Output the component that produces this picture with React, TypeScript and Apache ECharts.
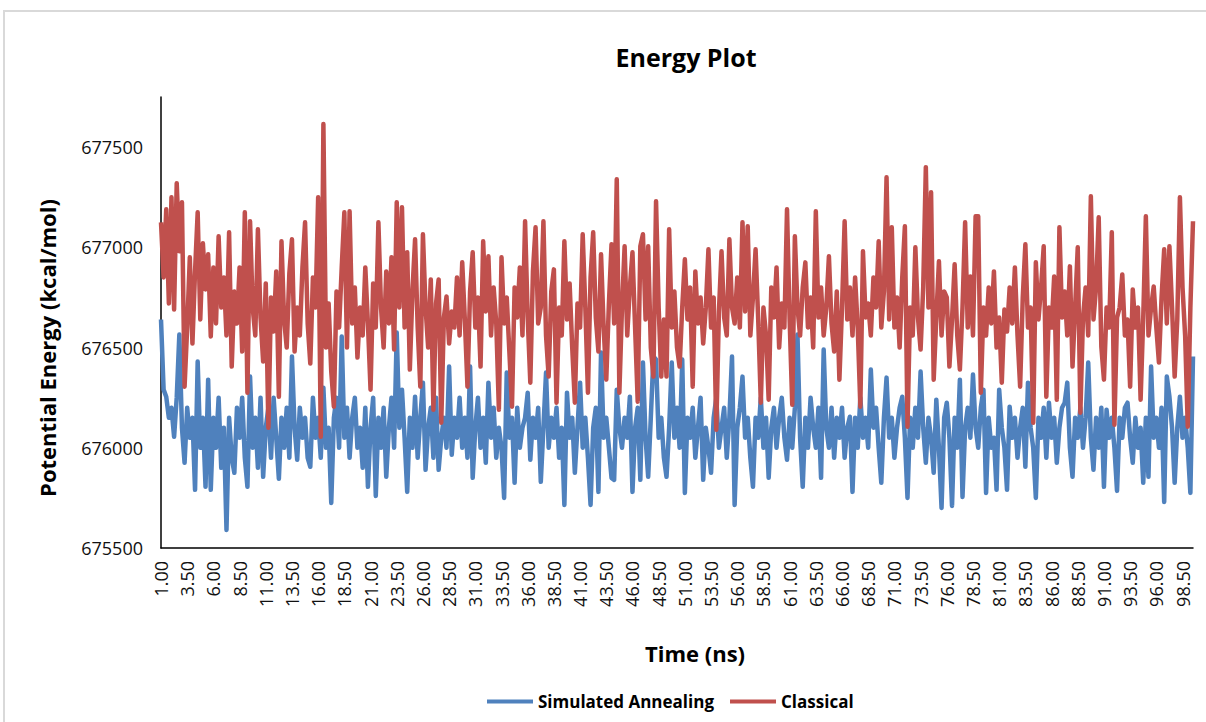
import React, { useEffect, useRef } from "react";
import * as echarts from "echarts";

const TIME_START = 1.0;
const TIME_STEP = 0.25;

const simulatedAnnealing: number[] = [
  676640, 676290, 676255, 676150, 676200, 676055, 676250, 676565, 676100, 675925,
  676200, 676050, 676150, 675790, 676430, 676000, 676150, 675805, 676340, 675790,
  676150, 676000, 676250, 675900, 676100, 675590, 676150, 675950, 675875, 676200,
  676050, 676250, 675950, 675805, 676355, 676000, 676150, 675900, 676250, 675855,
  676100, 676200, 675950, 676250, 676050, 675845, 676150, 676000, 676200, 675950,
  676455, 676100, 675940, 676200, 676050, 676150, 675950, 675905, 676250, 676050,
  676150, 675950, 676300, 676000, 676100, 675725, 676150, 676250, 676000, 676555,
  676050, 676200, 675950, 676150, 676250, 676000, 676100, 675900, 676200, 675805,
  676100, 676250, 675760, 676150, 676000, 676200, 675855, 676100, 676250, 676000,
  676575, 676100, 676290, 676050, 675780, 676150, 676000, 676255, 675950, 676150,
  676325, 675890, 676100, 676200, 675950, 676250, 675890, 676050, 676150, 676000,
  676405, 675965, 676150, 676050, 676250, 676000, 676150, 675950, 676405, 675850,
  676100, 676250, 676000, 676150, 675925, 676325, 676050, 676200, 675950, 676100,
  676000, 675750, 676375, 676050, 676150, 675825, 676200, 676000, 676100, 676150,
  676275, 675940, 676150, 676050, 676200, 675830, 676100, 676375, 676000, 676150,
  676050, 676200, 675950, 676100, 675715, 676275, 676050, 676150, 675875, 676100,
  676325, 676000, 676150, 675950, 675715, 676100, 676200, 675780, 676475, 676050,
  676150, 676000, 675850, 675840, 676290, 676100, 676000, 676150, 676050, 676255,
  675780, 676100, 676200, 675840, 676425, 676050, 675855, 676150, 676455, 676440,
  676050, 676150, 675950, 675855, 676100, 676425, 676050, 676200, 676000, 676440,
  675775, 676150, 676050, 676200, 675950, 676100, 676250, 675840, 676100, 676000,
  675875, 676150, 676250, 676000, 676100, 676200, 675950, 676150, 676455, 675715,
  676100, 676200, 676355, 676050, 676150, 675950, 675805, 676150, 676050, 676250,
  676000, 676150, 675850, 676100, 676200, 676000, 676150, 676250, 676050, 675940,
  676150, 676000, 676200, 676565, 676050, 675805, 676150, 676000, 676250, 676100,
  676000, 676200, 675850, 676490, 676100, 676000, 676200, 675950, 676150, 676050,
  676200, 675950, 676100, 676155, 675780, 676150, 676000, 676250, 676050, 676150,
  676000, 676390, 676100, 676200, 676000, 675825, 676150, 676350, 676050, 676150,
  675950, 676100, 676200, 676255, 676050, 675750, 676150, 676000, 676200, 676050,
  676380, 676100, 675925, 676150, 676050, 675875, 676240, 676000, 675700, 676150,
  676225, 676050, 675710, 676150, 676000, 676340, 675755, 676100, 676200, 676050,
  676365, 676100, 676000, 676200, 676290, 675775, 676150, 676000, 676050, 675790,
  676290, 676100, 676000, 675790, 676205, 676050, 676150, 675950, 676100, 676200,
  675905, 676325, 676100, 676000, 675750, 676150, 676050, 676200, 675950, 676225,
  676050, 676150, 675925, 676100, 676200, 676225, 676325, 676000, 675855, 676150,
  676050, 676200, 676000, 676150, 676425, 676050, 675890, 676150, 676000, 676200,
  675805, 676190, 676050, 676150, 676000, 675785, 676150, 676050, 676200, 676225,
  676050, 675925, 676150, 676000, 676100, 675825, 676150, 675855, 676405, 676050,
  676150, 676000, 676200, 675730, 676355, 676255, 676100, 675825, 676100, 676255,
  676050, 676150, 676000, 675775, 676455,
];

const classical: number[] = [
  677125, 676850, 677190, 676720, 677250, 676690, 677320, 676980, 677225, 676305,
  676600, 676950, 676520, 676880, 677175, 676640, 677020, 676790, 676965, 676555,
  676900, 676620, 677055, 676700, 676850, 676560, 677075, 676405, 676780, 676620,
  676900, 676480, 677175, 676275, 677130, 676700, 676560, 677090, 676650, 676430,
  676820, 676100, 676750, 676580, 676880, 676255, 677030, 676640, 676500, 676870,
  677040, 676480, 676700, 676560, 676900, 677125, 676620, 676420, 676850, 676700,
  677250, 676055, 677615, 676500, 676720, 676380, 676205, 676780, 676600, 676900,
  677175, 676500, 677180, 676620, 676800, 676450, 676700, 676560, 676900, 676620,
  676290, 676820, 676600, 677125, 676700, 676500, 676880, 676620, 676950, 676490,
  677225, 676700, 677200, 676600, 676975, 676390, 676780, 677040, 676600, 676305,
  677065, 676700, 676500, 676840, 676190, 676720, 676840, 676125, 676650, 676755,
  676520, 676680, 676600, 676850, 676560, 676925, 676640, 676305, 676780, 676975,
  676600, 676750, 676405, 677030, 676680, 676955, 676560, 676800, 676620, 676190,
  676950, 676620, 676750, 676480, 676205, 676800, 676650, 676900, 676560, 677130,
  676650, 676325, 676880, 677100, 676620, 676700, 677130, 676560, 676355, 676780,
  676890, 676225, 676700, 676560, 677030, 676640, 676820, 676500, 676225, 676720,
  676600, 677065, 676700, 676275, 676850, 677075, 676650, 676480, 676965, 676600,
  676340, 676720, 677015, 676620, 677340, 676275, 676700, 677005, 676560, 676800,
  676975, 676600, 676230, 677005, 677065, 676640, 677005, 676500, 676355, 677230,
  676700, 676355, 676640, 676355, 677090, 676600, 676780, 676500, 676405, 676700,
  676940, 676640, 676800, 676305, 676880, 676620, 676750, 676520, 676700, 676990,
  676600, 676750, 676090, 676680, 676980, 676650, 676560, 677040, 676700, 676620,
  676850, 676600, 677125, 676680, 677105, 676560, 676750, 676990, 676640, 676225,
  676700, 676560, 676240, 676800, 676650, 676900, 676500, 676720, 676600, 677190,
  676640, 676215, 677055, 676700, 676560, 676800, 676925, 676600, 676750, 676500,
  677180, 676650, 676800, 676560, 676700, 676955, 676620, 676480, 676780, 676340,
  676700, 677130, 676640, 676800, 676560, 676850, 676600, 676205, 676980, 676650,
  676720, 676560, 676850, 676700, 677030, 676600, 676780, 677350, 676640, 677100,
  676600, 676750, 676500, 676850, 677105, 676105, 676700, 676560, 677000, 676650,
  676490, 676800, 677400, 676700, 677275, 676340, 676650, 676930, 676560, 676780,
  676750, 676405, 676640, 676915, 676560, 676390, 676700, 677125, 676600, 676855,
  676560, 677155, 677155, 676275, 676700, 676560, 676800, 676620, 676880, 676500,
  676650, 676325, 676690, 676580, 676800, 676620, 676900, 676560, 676305, 676750,
  677015, 676600, 676700, 676125, 676925, 676640, 676800, 677005, 676255, 676700,
  676600, 676855, 676240, 677100, 676650, 676780, 676560, 676905, 676405, 676700,
  677000, 676175, 676650, 676800, 676560, 677255, 676640, 676800, 677150, 676505,
  676340, 676700, 676600, 677075, 676115, 676650, 676700, 676865, 676560, 676640,
  676305, 676790, 676600, 676700, 676240, 676650, 677155, 676560, 676700, 676805,
  676600, 676425, 676750, 676990, 676620, 677005, 676700, 676355, 676640, 677250,
  676800, 676560, 676105, 676700, 677130,
];

const timeLabels: string[] = simulatedAnnealing.map((_, i) =>
  (TIME_START + i * TIME_STEP).toFixed(2)
);

const Y_MIN = 675500;
const Y_MAX = 677750;
const Y_INTERVAL = 500;

const FONT = "'Open Sans', 'Noto Sans', sans-serif";

export default function App() {
  const ref = useRef<HTMLDivElement>(null);

  useEffect(() => {
    if (!ref.current) return;
    const chart = echarts.init(ref.current, undefined, { renderer: "svg" });
    chart.setOption({
      animation: false,
      backgroundColor: "#ffffff",
      grid: { left: 161, right: 13, top: 97, bottom: 174, containLabel: false },
      graphic: [
        {
          type: "rect",
          silent: true,
          shape: { x: 4, y: 11, width: 1220, height: 730 },
          style: { fill: "none", stroke: "#d9d9d9", lineWidth: 2 },
        },
        {
          type: "text",
          x: 686,
          y: 57,
          style: {
            text: "Energy Plot",
            font: `bold 25px ${FONT}`,
            fill: "#000",
            textAlign: "center",
            textVerticalAlign: "middle",
          },
        },
        {
          type: "text",
          x: 47,
          y: 348,
          rotation: Math.PI / 2,
          style: {
            text: "Potential Energy (kcal/mol)",
            font: `bold 22px ${FONT}`,
            fill: "#000",
            textAlign: "center",
            textVerticalAlign: "middle",
          },
        },
        {
          type: "text",
          x: 695,
          y: 653,
          style: {
            text: "Time (ns)",
            font: `bold 22px ${FONT}`,
            fill: "#000",
            textAlign: "center",
            textVerticalAlign: "middle",
          },
        },
      ],
      legend: {
        left: 482,
        top: 688,
        itemWidth: 46,
        itemHeight: 4,
        itemGap: 16,
        icon: "rect",
        textStyle: { fontFamily: FONT, fontWeight: "bold", fontSize: 17, color: "#000" },
        data: ["Simulated Annealing", "Classical"],
      },
      xAxis: {
        type: "category",
        data: timeLabels,
        boundaryGap: false,
        axisLine: { show: true, lineStyle: { color: "#000", width: 1.5 } },
        axisTick: { show: false },
        splitLine: { show: false },
        axisLabel: {
          interval: 9,
          rotate: 90,
          margin: 13,
          fontFamily: FONT,
          fontSize: 18,
          color: "#111",
        },
      },
      yAxis: {
        type: "value",
        min: Y_MIN,
        max: Y_MAX,
        interval: Y_INTERVAL,
        axisLine: { show: true, lineStyle: { color: "#000", width: 1.5 } },
        axisTick: { show: false },
        splitLine: { show: false },
        axisLabel: {
          showMaxLabel: false,
          margin: 18,
          fontFamily: FONT,
          fontSize: 18,
          color: "#111",
          formatter: (v: number) => String(v),
        },
      },
      series: [
        {
          name: "Simulated Annealing",
          type: "line",
          data: simulatedAnnealing,
          showSymbol: false,
          symbol: "none",
          color: "#4F81BD",
          lineStyle: { width: 4.5, color: "#4F81BD", join: "round" },
        },
        {
          name: "Classical",
          type: "line",
          data: classical,
          showSymbol: false,
          symbol: "none",
          color: "#C0504D",
          lineStyle: { width: 4.5, color: "#C0504D", join: "round" },
        },
      ],
    });
    return () => chart.dispose();
  }, []);

  return (
    <div
      ref={ref}
      style={{ position: "absolute", left: 0, top: 0, width: 1206, height: 722, background: "#fff" }}
    />
  );
}
